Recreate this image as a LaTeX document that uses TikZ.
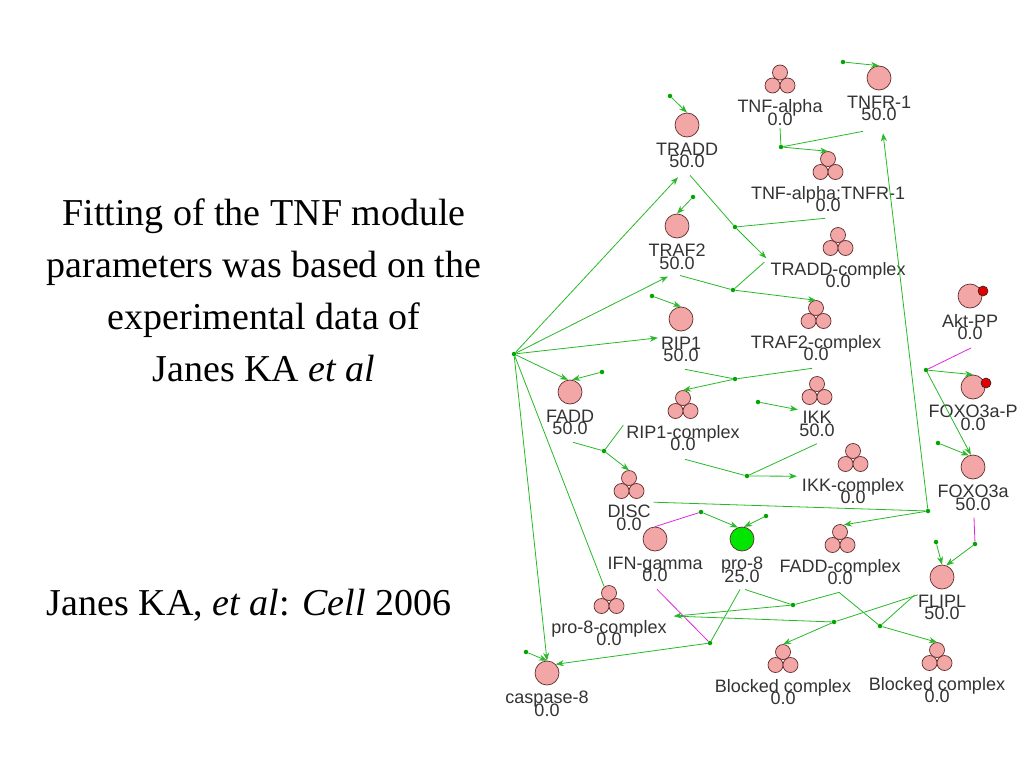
\documentclass[tikz,border=0pt]{standalone}
\usepackage{fontspec}
\setmainfont{Liberation Serif}
\newfontfamily\netfont{Liberation Sans}
\usepackage{tikz}
\usetikzlibrary{arrows.meta,positioning}

\definecolor{spfill}{RGB}{243,166,166}
\definecolor{spline}{RGB}{95,45,45}
\definecolor{edgegreen}{RGB}{40,185,40}
\definecolor{dotgreen}{RGB}{0,165,0}
\definecolor{modmag}{RGB}{225,40,225}
\definecolor{progreen}{RGB}{0,230,0}
\definecolor{phosred}{RGB}{225,0,0}

\tikzset{
  sp/.style    = {circle, draw=spline, fill=spfill, line width=0.7pt,
                  minimum size=24pt, inner sep=0pt},
  spdraw/.style = {draw=spline, fill=spfill, line width=0.7pt},
  cplx/.style  = {circle, minimum size=29pt, inner sep=0pt},
  phos/.style  = {circle, draw=black!85, fill=phosred, line width=0.6pt,
                  minimum size=10pt, inner sep=0pt},
  lab/.style   = {font={\netfont\fontsize{18}{12.5}\selectfont\lineskiplimit=-50pt},
                  text=black!80, align=center, inner sep=0pt},
  rdot/.style  = {circle, fill=dotgreen, minimum size=4.5pt, inner sep=0pt},
  ln/.style    = {draw=edgegreen, line width=0.8pt},
  ar/.style    = {ln, -{Stealth[length=8pt, width=6pt, inset=2.5pt]}},
  mod/.style   = {draw=modmag, line width=0.8pt},
  title/.style = {font=\fontsize{38}{52}\selectfont, align=center, inner sep=0pt}
}

% three touching spheres of a complex, drawn round a named node
\newcommand{\cplxballs}[1]{%
  \foreach \dx/\dy in {0/-7,-7.5/6,7.5/6}
    \draw[spdraw] ([shift={(\dx,\dy)}]#1.center) circle[radius=7.5pt];}

\begin{document}
\begin{tikzpicture}[x=1pt, y=-1pt, node distance=5.5pt]
  \path[fill=white] (0,0) rectangle (1024,768);
  \useasboundingbox (0,0) rectangle (1024,768);

  % ===================== left: caption text =====================
  \node[title, anchor=north] (fitting) at (264,199) {%
    Fitting of the TNF module\\
    parameters was based on the\\
    experimental data of\\
    Janes KA \textit{et al}};
  \node[title, anchor=base] (cite) at (249,615)
    {Janes KA, \textit{et al}: \textit{Cell} 2006};

  % ===================== species: single proteins =====================
  \node[sp] (tradd) at (687,125) {};
  \node[lab, below=of tradd] (traddL) {TRADD\\50.0};
  \node[sp] (tnfr) at (879,78) {};
  \node[lab, below=of tnfr] (tnfrL) {TNFR-1\\50.0};
  \node[sp] (traf2) at (677,226) {};
  \node[lab, below=of traf2] (traf2L) {TRAF2\\50.0};
  \node[sp] (rip1) at (681,319) {};
  \node[lab, below=of rip1] (rip1L) {RIP1\\50.0};
  \node[sp] (fadd) at (570,392) {};
  \node[lab, below=of fadd] (faddL) {FADD\\50.0};
  \node[sp] (ifng) at (655,539) {};
  \node[lab, below=of ifng] (ifngL) {IFN-gamma\\0.0};
  \node[sp, fill=progreen] (pro8) at (742,539) {};
  \node[lab, below=of pro8] (pro8L) {pro-8\\25.0};
  \node[sp] (casp8) at (547,673) {};
  \node[lab, below=of casp8] (casp8L) {caspase-8\\0.0};
  \node[sp] (flipl) at (942,577) {};
  \node[lab, below=of flipl] (fliplL) {FLIPL\\50.0};
  \node[sp] (akt) at (970,296) {};
  \node[phos] (aktP) at (983,291) {};
  \node[lab, below=of akt] (aktL) {Akt-PP\\0.0};
  \node[sp] (foxop) at (973,387) {};
  \node[phos] (foxopP) at (986,383) {};
  \node[lab, below=of foxop] (foxopL) {FOXO3a-P\\0.0};
  \node[sp] (foxo) at (973,467) {};
  \node[lab, below=of foxo] (foxoL) {FOXO3a\\50.0};

  % ===================== species: complexes =====================
  \node[cplx] (tnfa) at (780,79.5) {};     \cplxballs{tnfa}
  \node[lab, below=of tnfa] (tnfaL) {TNF-alpha\\0.0};
  \node[cplx] (tnfc) at (828,166) {};      \cplxballs{tnfc}
  \node[lab, below=of tnfc] (tnfcL) {TNF-alpha:TNFR-1\\0.0};
  \node[cplx] (traddc) at (838,242) {};    \cplxballs{traddc}
  \node[lab, below=of traddc] (traddcL) {TRADD-complex\\0.0};
  \node[cplx] (traf2c) at (816,315) {};    \cplxballs{traf2c}
  \node[lab, below=of traf2c] (traf2cL) {TRAF2-complex\\0.0};
  \node[cplx] (rip1c) at (683,405) {};     \cplxballs{rip1c}
  \node[lab, below=of rip1c] (rip1cL) {RIP1-complex\\0.0};
  \node[cplx] (ikk) at (817,391) {};       \cplxballs{ikk}
  \node[lab, below=of ikk] (ikkL) {IKK\\50.0};
  \node[cplx] (ikkc) at (853,458) {};      \cplxballs{ikkc}
  \node[lab, below=of ikkc] (ikkcL) {IKK-complex\\0.0};
  \node[cplx] (disc) at (629,485) {};      \cplxballs{disc}
  \node[lab, below=of disc] (discL) {DISC\\0.0};
  \node[cplx] (faddc) at (840,539) {};     \cplxballs{faddc}
  \node[lab, below=of faddc] (faddcL) {FADD-complex\\0.0};
  \node[cplx] (pro8c) at (609,600) {};     \cplxballs{pro8c}
  \node[lab, below=of pro8c] (pro8cL) {pro-8-complex\\0.0};
  \node[cplx] (block1) at (783,659) {};    \cplxballs{block1}
  \node[lab, below=of block1] (block1L) {Blocked complex\\0.0};
  \node[cplx] (block2) at (937,657) {};    \cplxballs{block2}
  \node[lab, below=of block2] (block2L) {Blocked complex\\0.0};

  % ===================== reaction points =====================
  \node[rdot] (hub) at (514,354) {};
  \node[rdot] (s1) at (670,96) {};
  \node[rdot] (s2) at (843,62) {};
  \node[rdot] (s3) at (693,197) {};
  \node[rdot] (s4) at (652,296) {};
  \node[rdot] (s5) at (602,372) {};
  \node[rdot] (s6) at (758,402) {};
  \node[rdot] (s7) at (766,516) {};
  \node[rdot] (s8) at (526,652) {};
  \node[rdot] (s9) at (936,542) {};
  \node[rdot] (s10) at (938,443) {};
  \node[rdot] (r1) at (781,147) {};
  \node[rdot] (r2) at (735,227) {};
  \node[rdot] (r3) at (733,290) {};
  \node[rdot] (r4) at (735,379) {};
  \node[rdot] (r5) at (604,451) {};
  \node[rdot] (r6) at (747,476) {};
  \node[rdot] (r7) at (928,511) {};
  \node[rdot] (r8) at (701,512) {};
  \node[rdot] (r9) at (793,605) {};
  \node[rdot] (r10) at (710,643) {};
  \node[rdot] (r11) at (834,622) {};
  \node[rdot] (r12) at (880,626) {};
  \node[rdot] (r13) at (975,544) {};
  \node[rdot] (r14) at (926,370) {};

  % ===================== synthesis =====================
  \draw[ar] (s1) -- (tradd.north);
  \draw[ar] (s2) -- (tnfr.north);
  \draw[ar] (s3) -- (traf2.north);
  \draw[ar] (s4) -- (rip1.north);
  \draw[ar] (s5) -- (fadd.80);
  \draw[ar] (s6) -- ([shift={(-1.5,-1.5)}]ikkL.north west);
  \draw[ar] (s7) -- (pro8.80);
  \draw[ar] (s8) -- (casp8.north);
  \draw[ar] (s9) -- (flipl.north);
  \draw[ar] (s10) -- (foxo.110);

  % ===================== hub =====================
  \draw[ar] (hub) -- ([shift={(-9,9)}]traddL.south);
  \draw[ar] (hub) -- ([shift={(-9,7)}]traf2L.south);
  \draw[ar] (hub) -- ([shift={(-3,1)}]rip1L.north west);
  \draw[ar] (hub) -- (fadd.100);
  \draw[ar] (hub) -- (casp8.north);
  \draw[ln] (hub) -- (pro8c.110);

  % ===================== receptor chain =====================
  \draw[ln] ([yshift=-2pt]tnfaL.south) -- (r1);
  \draw[ln] ([shift={(-16,10)}]tnfrL.south) -- (r1);
  \draw[ar] (r1) -- (tnfc.north);

  \draw[ln] ([shift={(3,7)}]traddL.south) -- (r2);
  \draw[ln] ([shift={(-3,6)}]tnfcL.south) -- (r2);
  \draw[ar] (r2) -- ([shift={(-4,-4)}]traddcL.north west);

  \draw[ln] ([shift={(3,6)}]traf2L.south) -- (r3);
  \draw[ln] (r3) -- ([shift={(-6,0)}]traddcL.north west);
  \draw[ar] (r3) -- (traf2c.north);

  \draw[ln] ([shift={(4,7)}]rip1L.south) -- (r4);
  \draw[ln] ([shift={(-4,7)}]traf2cL.south) -- (r4);
  \draw[ar] (r4) -- (rip1c.north);

  \draw[ln] ([shift={(3,7)}]faddL.south) -- (r5);
  \draw[ln] ([xshift=-3pt]rip1cL.north west) -- (r5);
  \draw[ar] (r5) -- (disc.north);

  \draw[ln] ([shift={(2,8)}]rip1cL.south) -- (r6);
  \draw[ln] ([yshift=-7pt]ikkL.south) -- (r6);
  \draw[ar] (r6) -- ([shift={(-5,-2)}]ikkcL.north west);

  \draw[ln] ([shift={(3,-3)}]discL.north east) -- (r7);
  \draw[ar] (r7) -- ([shift={(4,12)}]tnfrL.south);
  \draw[ar] (r7) -- (faddc.75);

  % ===================== caspase branch =====================
  \draw[mod] (ifng.north) -- (r8);
  \draw[ar] (r8) -- (pro8.110);

  \draw[ln] ([shift={(3,7)}]pro8L.south) -- (r9);
  \draw[ln] ([shift={(-1,7)}]faddcL.south) -- (r9);
  \draw[ar] (r9) -- ([shift={(7,-4)}]pro8cL.north east);

  \draw[ln] ([shift={(-2,7)}]pro8L.south) -- (r10);
  \draw[mod] ([shift={(2,7)}]ifngL.south) -- (r10);
  \draw[ar] (r10) -- (casp8.45);

  \draw[ln] ([shift={(10,-4)}]pro8cL.north east) -- (r11);
  \draw[ln] (fliplL.north west) -- (r11);
  \draw[ar] (r11) -- (block1.north);

  \draw[ln] ([shift={(-1,7)}]faddcL.south) -- (r12);
  \draw[ln] ([xshift=-3pt]fliplL.north west) -- (r12);
  \draw[ar] (r12) -- (block2.north);

  % ===================== FOXO3a / Akt =====================
  \draw[mod] ([shift={(1,7)}]foxoL.south) -- (r13);
  \draw[ar] (r13) -- (flipl.70);
  \draw[mod] ([shift={(1,8)}]aktL.south) -- (r14);
  \draw[ar] (r14) -- (foxop.north);
  \draw[ar] (r14) -- (foxo.100);
\end{tikzpicture}
\end{document}
